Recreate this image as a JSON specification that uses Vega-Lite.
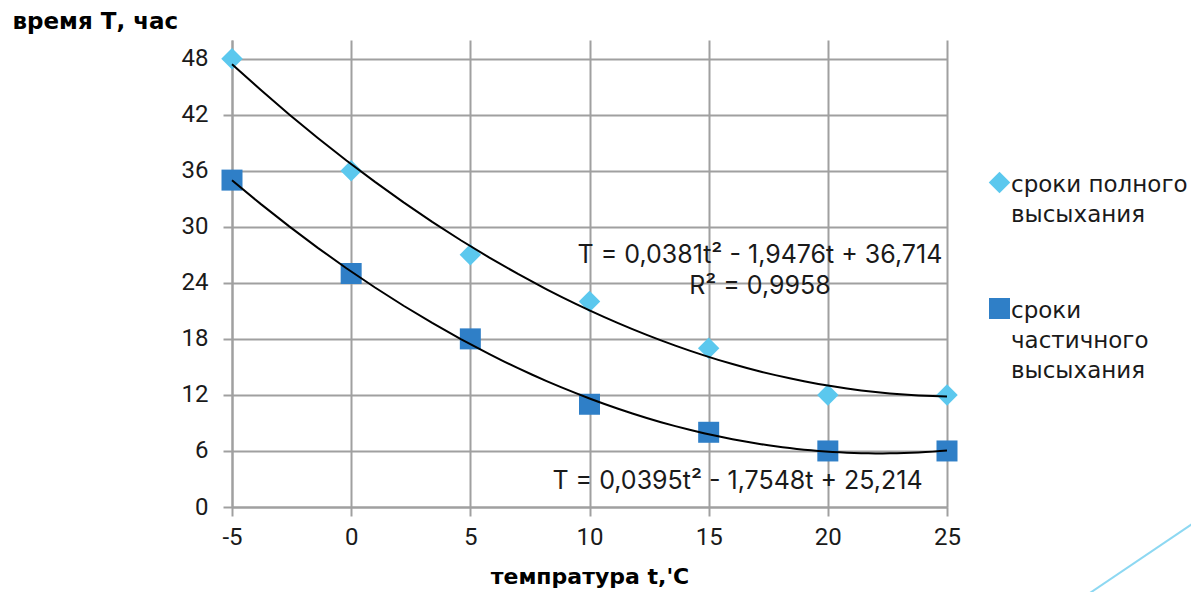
{
  "$schema": "https://vega.github.io/schema/vega-lite/v6.json",
  "width": 715,
  "height": 467,
  "autosize": {"type": "none"},
  "padding": {"left": 232, "top": 40, "right": 244, "bottom": 85},
  "background": "white",
  "config": {
    "view": {"stroke": null},
    "style": {"guide-label": {"lineHeight": 30, "dy": 9}},
    "axis": {
      "domainColor": "#a0a0a0",
      "domainWidth": 2,
      "gridColor": "#a0a0a0",
      "gridWidth": 2,
      "gridOpacity": 1,
      "tickColor": "#a0a0a0",
      "tickWidth": 2,
      "tickSize": 9,
      "labelFont": "Roboto",
      "labelFontSize": 24,
      "labelColor": "#1a1a1a",
      "titleFont": "DejaVu Sans",
      "titleFontWeight": "bold",
      "titleColor": "#000000"
    }
  },
  "datasets": {
    "pts": [
      {"t": -5, "T": 48, "series": "сроки полного высыхания"},
      {"t": 0, "T": 36, "series": "сроки полного высыхания"},
      {"t": 5, "T": 27, "series": "сроки полного высыхания"},
      {"t": 10, "T": 22, "series": "сроки полного высыхания"},
      {"t": 15, "T": 17, "series": "сроки полного высыхания"},
      {"t": 20, "T": 12, "series": "сроки полного высыхания"},
      {"t": 25, "T": 12, "series": "сроки полного высыхания"},
      {"t": -5, "T": 35, "series": "сроки частичного высыхания"},
      {"t": 0, "T": 25, "series": "сроки частичного высыхания"},
      {"t": 5, "T": 18, "series": "сроки частичного высыхания"},
      {"t": 10, "T": 11, "series": "сроки частичного высыхания"},
      {"t": 15, "T": 8, "series": "сроки частичного высыхания"},
      {"t": 20, "T": 6, "series": "сроки частичного высыхания"},
      {"t": 25, "T": 6, "series": "сроки частичного высыхания"}
    ],
    "notes": [
      {"t": 17.15, "T": 26.14, "label": "T = 0,0381t² - 1,9476t + 36,714"},
      {"t": 17.15, "T": 22.8, "label": "R² = 0,9958"},
      {"t": 16.21, "T": 1.93, "label": "T = 0,0395t² - 1,7548t + 25,214"}
    ],
    "deco": [
      {"t": 31.0, "T": -9.2, "t2": 35.3, "T2": -1.8}
    ]
  },
  "layer": [
    {
      "data": {"name": "pts"},
      "mark": {"type": "point", "filled": true, "opacity": 1, "strokeWidth": 0},
      "encoding": {
        "x": {
          "field": "t", "type": "quantitative",
          "scale": {"domain": [-5, 25], "nice": false, "zero": false},
          "axis": {
            "values": [-5, 0, 5, 10, 15, 20, 25],
            "labelExpr": "'' + datum.value",
            "title": "темпратура t,'С",
            "titleFontSize": 22,
            "labelPadding": 0,
            "labelFlush": false,
            "titleBaseline": "alphabetic",
            "titleY": 76
          }
        },
        "y": {
          "field": "T", "type": "quantitative",
          "scale": {"domain": [0, 50], "nice": false, "zero": false},
          "axis": {
            "values": [0, 6, 12, 18, 24, 30, 36, 42, 48],
            "title": "время Т, час",
            "titleFontSize": 23,
            "titleAngle": 0,
            "titleAlign": "left",
            "titleBaseline": "alphabetic",
            "titleX": -220,
            "titleY": -12,
            "labelPadding": 15,
            "labelOffset": -9
          }
        },
        "color": {
          "field": "series", "type": "nominal",
          "scale": {"domain": ["сроки полного высыхания", "сроки частичного высыхания"], "range": ["#5bc8ee", "#2f7fc7"]},
          "legend": {
            "title": null,
            "orient": "none",
            "legendX": 756,
            "legendY": 131,
            "padding": 0,
            "symbolSize": 361,
            "symbolStrokeWidth": 0,
            "labelFont": "DejaVu Sans",
            "labelFontSize": 23,
            "labelColor": "#1a1a1a",
            "labelLimit": 400,
            "labelOffset": 0,
            "labelBaseline": "alphabetic",
            "rowPadding": 70,
            "labelExpr": "datum.label == 'сроки полного высыхания' ? ['сроки полного', 'высыхания'] : ['сроки', 'частичного', 'высыхания']"
          }
        },
        "shape": {
          "field": "series", "type": "nominal",
          "scale": {"domain": ["сроки полного высыхания", "сроки частичного высыхания"], "range": ["diamond", "square"]}
        },
        "size": {
          "field": "series", "type": "nominal",
          "scale": {"domain": ["сроки полного высыхания", "сроки частичного высыхания"], "range": [460, 441]},
          "legend": null
        }
      }
    },
    {
      "data": {"name": "pts"},
      "transform": [
        {"regression": "T", "on": "t", "groupby": ["series"], "method": "poly", "order": 2, "extent": [-5, 25]}
      ],
      "mark": {"type": "line", "color": "#000000", "strokeWidth": 2},
      "encoding": {
        "x": {"field": "t", "type": "quantitative"},
        "y": {"field": "T", "type": "quantitative"},
        "detail": {"field": "series", "type": "nominal"}
      }
    },
    {
      "data": {"name": "notes"},
      "mark": {"type": "text", "font": "Inter", "fontSize": 25, "color": "#1a1a1a", "align": "center", "baseline": "alphabetic"},
      "encoding": {
        "x": {"field": "t", "type": "quantitative"},
        "y": {"field": "T", "type": "quantitative"},
        "text": {"field": "label", "type": "nominal"}
      }
    },
    {
      "data": {"name": "deco"},
      "mark": {"type": "rule", "color": "#8dd8f2", "strokeWidth": 2},
      "encoding": {
        "x": {"field": "t", "type": "quantitative"},
        "y": {"field": "T", "type": "quantitative"},
        "x2": {"field": "t2"},
        "y2": {"field": "T2"}
      }
    }
  ]
}
